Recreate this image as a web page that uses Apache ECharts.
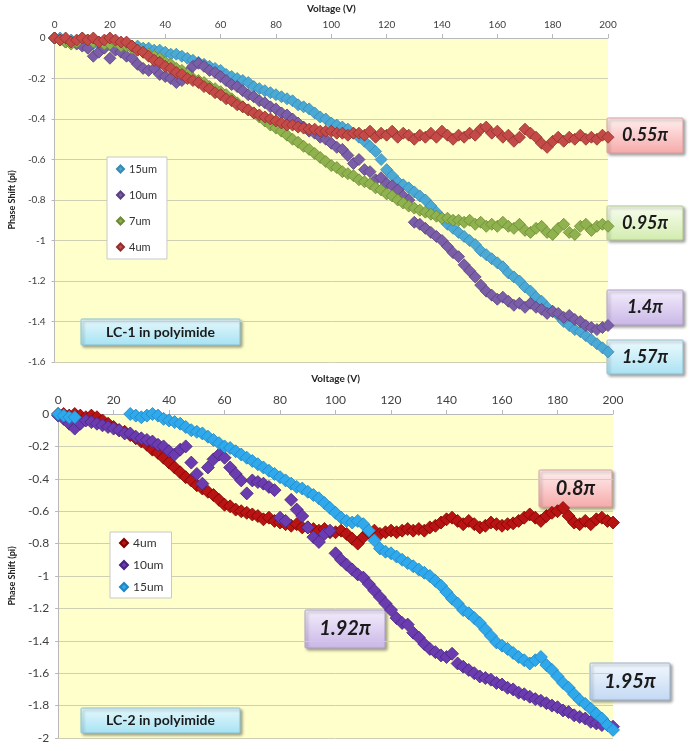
<!DOCTYPE html>
<html>
<head>
<meta charset="utf-8">
<title>Phase Shift vs Voltage</title>
<script src="https://cdn.jsdelivr.net/npm/echarts@6/dist/echarts.min.js"></script>
<style>
	html, body { margin: 0; padding: 0; background: #fff; }
	#chart { width: 697px; height: 751px; }
</style>
</head>
<body>
<div id="chart"></div>
<script>
// x values shared by every series (V)
var voltage = [
	0, 2, 4, 6, 8, 10, 12, 14, 16, 18,
	20, 22, 24, 26, 28, 30, 32, 34, 36, 38,
	40, 42, 44, 46, 48, 50, 52, 54, 56, 58,
	60, 62, 64, 66, 68, 70, 72, 74, 76, 78,
	80, 82, 84, 86, 88, 90, 92, 94, 96, 98,
	100, 102, 104, 106, 108, 110, 112, 114, 116, 118,
	120, 122, 124, 126, 128, 130, 132, 134, 136, 138,
	140, 142, 144, 146, 148, 150, 152, 154, 156, 158,
	160, 162, 164, 166, 168, 170, 172, 174, 176, 178,
	180, 182, 184, 186, 188, 190, 192, 194, 196, 198,
	200
];

// LC-1 in polyimide (phase shift, pi)
var lc1_15um = [
	0, 0, -0.01, -0.01, -0.02, -0.02, -0.02, -0.03, -0.03, -0.03,
	-0.03, -0.03, -0.03, -0.04, -0.04, -0.04, -0.05, -0.05, -0.06, -0.06,
	-0.07, -0.08, -0.08, -0.09, -0.1, -0.11, -0.12, -0.13, -0.14, -0.15,
	-0.16, -0.18, -0.19, -0.2, -0.21, -0.22, -0.24, -0.25, -0.26, -0.27,
	-0.28, -0.29, -0.3, -0.31, -0.33, -0.34, -0.35, -0.37, -0.39, -0.4,
	-0.42, -0.43, -0.44, -0.45, -0.47, -0.49, -0.51, -0.535, -0.56, -0.6,
	-0.65, -0.68, -0.71, -0.725, -0.74, -0.76, -0.78, -0.8, -0.83, -0.86,
	-0.89, -0.92, -0.94, -0.96, -0.98, -1.0, -1.02, -1.05, -1.07, -1.09,
	-1.11, -1.13, -1.16, -1.18, -1.2, -1.23, -1.25, -1.28, -1.3, -1.33,
	-1.35, -1.37, -1.4, -1.42, -1.44, -1.45, -1.47, -1.49, -1.51, -1.53,
	-1.55
];
var lc1_10um = [
	0, -0.01, -0.02, -0.02, -0.03, -0.04, -0.05, -0.09, -0.07, -0.05,
	-0.1, -0.06, -0.07, -0.09, -0.1, -0.13, -0.15, -0.16, -0.15, -0.18,
	-0.19, -0.2, -0.22, -0.21, -0.17, -0.14, -0.125, -0.14, -0.16, -0.17,
	-0.19, -0.21, -0.23, -0.24, -0.26, -0.28, -0.29, -0.31, -0.32, -0.34,
	-0.35, -0.37, -0.38, -0.4, -0.42, -0.44, -0.46, -0.47, -0.49, -0.5,
	-0.52, -0.54, -0.55, -0.58, -0.62, -0.6, -0.65, -0.66, -0.7, -0.69,
	-0.72, -0.73, -0.75, -0.78, -0.8, -0.91, -0.92, -0.94, -0.96, -0.98,
	-1.0, -1.03, -1.06, -1.08, -1.12, -1.15, -1.18, -1.22, -1.25, -1.27,
	-1.29, -1.28, -1.3, -1.32, -1.31, -1.33, -1.31, -1.33, -1.34, -1.36,
	-1.35, -1.36, -1.38, -1.37, -1.39, -1.4, -1.42, -1.43, -1.44, -1.43,
	-1.42
];
var lc1_7um = [
	0, -0.01, -0.02, -0.03, -0.02, 0, -0.01, -0.02, -0.02, -0.03,
	-0.03, -0.02, -0.04, -0.04, -0.05, -0.06, -0.07, -0.08, -0.09, -0.1,
	-0.12, -0.13, -0.15, -0.16, -0.18, -0.2, -0.21, -0.22, -0.24, -0.25,
	-0.265, -0.28, -0.3, -0.32, -0.34, -0.355, -0.37, -0.39, -0.41, -0.43,
	-0.445, -0.46, -0.48, -0.5, -0.515, -0.535, -0.55, -0.57, -0.59, -0.61,
	-0.63, -0.64, -0.66, -0.67, -0.68, -0.7, -0.71, -0.72, -0.74, -0.75,
	-0.77, -0.78, -0.8, -0.815, -0.83, -0.84, -0.85, -0.86, -0.87, -0.88,
	-0.89, -0.89, -0.9, -0.9, -0.91, -0.9, -0.92, -0.91, -0.93, -0.92,
	-0.93, -0.91, -0.93, -0.94, -0.92, -0.95, -0.96, -0.94, -0.93, -0.96,
	-0.97, -0.94, -0.92, -0.96, -0.97, -0.93, -0.92, -0.95, -0.93, -0.92,
	-0.93
];
var lc1_4um = [
	0, -0.01, 0, -0.02, -0.01, 0, -0.01, 0, -0.02, -0.01,
	0, -0.01, -0.02, -0.02, -0.04, -0.06, -0.07, -0.09, -0.11, -0.12,
	-0.14, -0.15, -0.17, -0.18, -0.2, -0.21, -0.22, -0.24, -0.25, -0.27,
	-0.28, -0.3, -0.31, -0.33, -0.34, -0.355, -0.37, -0.38, -0.39, -0.4,
	-0.41, -0.42, -0.43, -0.43, -0.44, -0.445, -0.45, -0.45, -0.46, -0.46,
	-0.46, -0.47, -0.47, -0.48, -0.47, -0.47, -0.48, -0.46, -0.49, -0.47,
	-0.48, -0.46, -0.49, -0.47, -0.48, -0.5, -0.48, -0.49, -0.47, -0.49,
	-0.46, -0.48, -0.5, -0.48, -0.49, -0.47, -0.48, -0.45, -0.44, -0.47,
	-0.46, -0.49, -0.48, -0.51, -0.49, -0.45, -0.47, -0.49, -0.52, -0.54,
	-0.51, -0.49, -0.51, -0.49, -0.5, -0.48, -0.5, -0.49, -0.5, -0.48,
	-0.49
];

// LC-2 in polyimide (phase shift, pi), null = no reading
var lc2_4um = [
	0, 0, -0.01, 0, -0.01, -0.02, -0.01, -0.02, -0.04, -0.06,
	-0.08, -0.1, -0.11, -0.13, -0.15, -0.17, -0.19, -0.22, -0.24, -0.27,
	-0.3, -0.33, -0.36, -0.39, -0.41, -0.44, -0.46, -0.48, -0.5, -0.53,
	-0.56, -0.57, -0.59, -0.6, -0.61, -0.62, -0.63, -0.65, -0.64, -0.66,
	-0.67, -0.68, -0.69, -0.68, -0.7, -0.7, -0.71, -0.72, -0.71, -0.73,
	-0.73, -0.72, -0.74, -0.77, -0.8, -0.76, -0.73, -0.72, -0.74, -0.73,
	-0.72, -0.73, -0.72, -0.71, -0.72, -0.71, -0.72, -0.7, -0.69, -0.67,
	-0.65, -0.64, -0.66, -0.68, -0.66, -0.68, -0.7, -0.69, -0.67, -0.68,
	-0.69, -0.68, -0.675, -0.66, -0.64, -0.62, -0.64, -0.66, -0.63, -0.61,
	-0.6, -0.58, -0.63, -0.67, -0.68, -0.66, -0.68, -0.65, -0.64, -0.66,
	-0.67
];
var lc2_10um = [
	-0.01, -0.03, -0.06, -0.09, -0.06, -0.04, -0.05, -0.06, -0.07, -0.08,
	-0.09, -0.1, -0.12, -0.12, -0.14, -0.15, -0.16, -0.17, -0.19, -0.2,
	-0.23, -0.25, -0.22, -0.2, -0.3, -0.37, -0.43, -0.33, -0.28, -0.25,
	-0.27, -0.33, -0.37, -0.41, -0.49, -0.41, -0.42, -0.43, -0.45, -0.47,
	-0.64, -0.66, -0.53, -0.59, -0.63, -0.7, -0.76, -0.79, -0.74, -0.72,
	-0.86, -0.9, -0.93, -0.96, -0.99, -1.01, -1.05, -1.09, -1.13, -1.17,
	-1.21, -1.26, -1.29, -1.3, -1.35, -1.38, -1.42, -1.45, -1.47, -1.49,
	-1.5, -1.48, -1.54, -1.56, -1.58, -1.6, -1.62, -1.63, -1.64, -1.66,
	-1.67, -1.69, -1.7, -1.72, -1.73, -1.745, -1.76, -1.77, -1.785, -1.8,
	-1.81, -1.83, -1.84, -1.86, -1.87, -1.88, -1.9, -1.91, -1.92, -1.92,
	-1.93
];
var lc2_15um = [
	0, -0.01, -0.02, -0.02, null, null, null, null, null, null,
	null, null, null, 0, -0.01, -0.02, -0.01, 0, -0.01, -0.03,
	-0.04, -0.05, -0.06, -0.08, -0.1, -0.11, -0.12, -0.14, -0.16, -0.18,
	-0.2, -0.21, -0.23, -0.25, -0.27, -0.29, -0.31, -0.33, -0.35, -0.37,
	-0.39, -0.41, -0.43, -0.45, -0.46, -0.48, -0.5, -0.52, -0.55, -0.58,
	-0.61, -0.64, -0.66, -0.67, -0.66, -0.68, -0.72, -0.78, -0.83, -0.85,
	-0.86, -0.88, -0.9, -0.92, -0.94, -0.96, -0.98, -1.0, -1.03, -1.06,
	-1.1, -1.14, -1.17, -1.21, -1.23, -1.26, -1.29, -1.33, -1.37, -1.41,
	-1.43, -1.45, -1.475, -1.5, -1.52, -1.54, -1.52, -1.5, -1.55, -1.58,
	-1.62, -1.66, -1.69, -1.73, -1.765, -1.79, -1.82, -1.85, -1.88, -1.92,
	-1.95
];

var xTicks = [0, 20, 40, 60, 80, 100, 120, 140, 160, 180, 200];

function pairs(values) {
	var out = [];
	for (var i = 0; i < voltage.length; i++) {
		if (values[i] !== null) out.push([voltage[i], values[i]]);
	}
	return out;
}

function dots(name, values, axis, fill, border, size) {
	return {
		name: name,
		type: 'scatter',
		xAxisIndex: axis,
		yAxisIndex: axis,
		symbol: 'diamond',
		symbolSize: size,
		itemStyle: { color: fill, borderColor: border, borderWidth: 0.8, opacity: 1 },
		data: pairs(values)
	};
}

function xAxisCfg(grid, fontSize, nameGap) {
	return {
		type: 'value', gridIndex: grid, position: 'top',
		min: 0, max: 200, interval: 20,
		name: 'Voltage (V)', nameLocation: 'middle', nameGap: nameGap,
		nameTextStyle: { fontFamily: 'Lato', fontWeight: 'bold', fontSize: 10, color: '#222' },
		axisLine: { lineStyle: { color: '#b8b8b8' } },
		axisTick: { show: true, length: 4, lineStyle: { color: '#b8b8b8' } },
		axisLabel: { fontFamily: 'Lato', fontSize: fontSize, color: '#404040', margin: 8,
			formatter: function (v) { return xTicks.indexOf(v) >= 0 ? v : ''; } },
		splitLine: { show: false }
	};
}

function yAxisCfg(grid, min, fontSize, nameGap) {
	return {
		type: 'value', gridIndex: grid,
		min: min, max: 0, interval: 0.2,
		name: 'Phase Shift (pi)', nameLocation: 'middle', nameGap: nameGap,
		nameTextStyle: { fontFamily: 'Lato', fontWeight: 'bold', fontSize: 9, color: '#222' },
		axisLine: { show: true, lineStyle: { color: '#b8b8b8' } },
		axisTick: { show: true, length: 3, lineStyle: { color: '#b8b8b8' } },
		axisLabel: { fontFamily: 'Lato', fontSize: fontSize, color: '#404040', margin: 9,
			formatter: function (v) { return Math.abs(v) < 1e-9 ? '0' : String(Math.round(v * 10) / 10); } },
		splitLine: { show: true, lineStyle: { color: '#cfcfb4', width: 1 } }
	};
}

function tag(x, y, w, h, text, top, bottom, edge, fontSize, italic) {
	return {
		type: 'group', x: x, y: y, z: 100,
		children: [
			{
				type: 'rect',
				shape: { x: 0, y: 0, width: w, height: h, r: 1 },
				style: {
					fill: new echarts.graphic.LinearGradient(0, 0, 0, 1, [
						{ offset: 0, color: top }, { offset: 1, color: bottom }
					]),
					stroke: edge, lineWidth: 1,
					shadowBlur: 3, shadowOffsetX: 2, shadowOffsetY: 2, shadowColor: 'rgba(0,0,0,0.35)'
				}
			},
			{
				type: 'text',
				x: w / 2, y: h / 2,
				style: {
					text: text, align: 'center', verticalAlign: 'middle',
					fontFamily: 'Lato, "DejaVu Sans"', fontWeight: 'bold',
					fontStyle: italic ? 'italic' : 'normal',
					fontSize: fontSize, fill: '#1a1a1a'
				}
			}
		]
	};
}

var myChart = echarts.init(document.getElementById('chart'));
var option = {
	animation: false,
	backgroundColor: '#ffffff',
	grid: [
		{ left: 49, top: 38, width: 559, height: 324, show: true, backgroundColor: '#ffffcc', borderWidth: 0 },
		{ left: 53, top: 414, width: 560, height: 324, show: true, backgroundColor: '#ffffcc', borderWidth: 0 }
	],
	xAxis: [xAxisCfg(0, 10, 24), xAxisCfg(1, 12, 30)],
	yAxis: [yAxisCfg(0, -1.6, 10, 31), yAxisCfg(1, -2, 12, 36)],
	legend: [
		{
			data: ['LC1-15um', 'LC1-10um', 'LC1-7um', 'LC1-4um'],
			orient: 'vertical', left: 107, top: 157, selectedMode: false,
			padding: [6, 10, 6, 9], itemGap: 14, itemWidth: 7, itemHeight: 7,
			backgroundColor: '#fff', borderColor: '#c8c8c8', borderWidth: 1,
			icon: 'diamond',
			textStyle: { fontFamily: 'Lato', fontSize: 11, lineHeight: 12, color: '#333' },
			formatter: function (n) { return n.split('-')[1]; }
		},
		{
			data: ['LC2-4um', 'LC2-10um', 'LC2-15um'],
			orient: 'vertical', left: 110, top: 532, selectedMode: false,
			padding: [5, 8, 5, 9], itemGap: 10, itemWidth: 8, itemHeight: 8,
			backgroundColor: '#fff', borderColor: '#c8c8c8', borderWidth: 1,
			icon: 'diamond',
			textStyle: { fontFamily: 'Lato', fontSize: 12, lineHeight: 12, color: '#333' },
			formatter: function (n) { return n.split('-')[1]; }
		}
	],
	series: [
		dots('LC1-15um', lc1_15um, 0, '#4ba9d6', '#3889b4', 12),
		dots('LC1-10um', lc1_10um, 0, '#7b5ea8', '#59417f', 12),
		dots('LC1-7um', lc1_7um, 0, '#8fb24f', '#6a8a35', 12),
		dots('LC1-4um', lc1_4um, 0, '#c44a48', '#8f2f2d', 12),
		dots('LC2-4um', lc2_4um, 1, '#b81414', '#800000', 13),
		dots('LC2-10um', lc2_10um, 1, '#6a3cb0', '#482480', 13),
		dots('LC2-15um', lc2_15um, 1, '#30a8ec', '#1e86c4', 13)
	],
	graphic: [
		tag(607, 118, 76, 35, '0.55π', '#fff0f0', '#f6a9a9', '#d8a0a0', 18, true),
		tag(607, 206, 76, 34, '0.95π', '#f8fdf0', '#d2ecae', '#b0c890', 18, true),
		tag(607, 290, 76, 35, '1.4π', '#f4eefc', '#c9b6e6', '#b0a0c8', 18, true),
		tag(607, 340, 76, 34, '1.57π', '#effbfe', '#a9e2f3', '#90c0d0', 18, true),
		tag(81, 319, 159, 26, 'LC-1 in polyimide', '#e6f9fd', '#a6e2f3', '#88c4d4', 14, false),
		tag(539, 470, 73, 37, '0.8π', '#fff0f0', '#f6a9a9', '#d8a0a0', 20, true),
		tag(305, 610, 80, 38, '1.92π', '#f4eefc', '#c9b6e6', '#b0a0c8', 20, true),
		tag(590, 663, 80, 37, '1.95π', '#f3f8fe', '#c2d9f3', '#98b4d0', 20, true),
		tag(81, 708, 159, 25, 'LC-2 in polyimide', '#e6f9fd', '#a6e2f3', '#88c4d4', 14, false)
	]
};
myChart.setOption(option);
</script>
</body>
</html>
